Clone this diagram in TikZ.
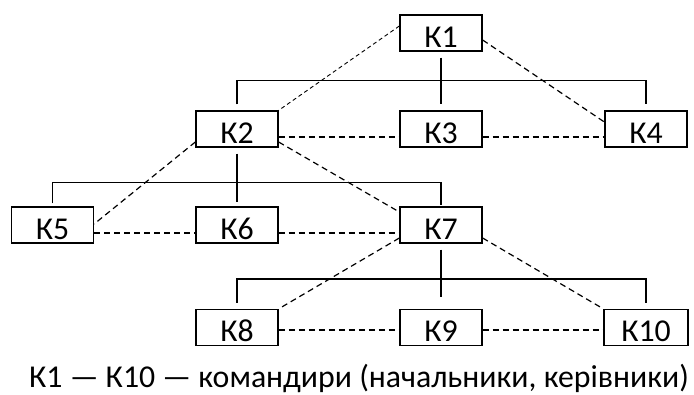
\documentclass[tikz,border=0pt]{standalone}
\usepackage{fontspec}
\setmainfont{Carlito}
\begin{document}
\begin{tikzpicture}[x=1pt,y=-1pt,
  kbox/.style={draw, line width=1.3pt, minimum width=82pt, minimum height=36pt,
    inner sep=0pt, text height=28pt, text depth=0pt, font=\fontsize{31.8}{34}\selectfont},
  tree/.style={line width=1.4pt},
  dline/.style={line width=1.2pt, dash pattern=on 6pt off 4pt},
  dthin/.style={line width=0.9pt, dash pattern=on 4pt off 3pt}]
\useasboundingbox (0,0) rectangle (694,394);
\node[kbox] (K1) at (441,33) {К1};
\node[kbox] (K2) at (237,129) {К2};
\node[kbox] (K3) at (441,129) {К3};
\node[kbox] (K4) at (646,129) {К4};
\node[kbox] (K5) at (52.5,225) {К5};
\node[kbox] (K6) at (237,225) {К6};
\node[kbox] (K7) at (441,225) {К7};
\node[kbox] (K8) at (237,327.5) {К8};
\node[kbox] (K9) at (441,327.5) {К9};
\node[kbox, minimum width=84pt] (K10) at (646,327.5) {К10};
% tree lines
\draw[tree] ([yshift=-6pt]K1.south) -- ([yshift=6pt]K3.north);
\draw[tree] ([yshift=6pt]K2.north) |- ([yshift=30pt]K3.north) -| ([yshift=6pt]K4.north);
\draw[tree] ([yshift=-6pt]K2.south) -- ([yshift=4pt]K6.north);
\draw[tree] ([yshift=3pt]K5.north) |- ([yshift=24pt]K6.north) -| ([yshift=1pt]K7.north);
\draw[tree] ([yshift=-6pt]K7.south) -- ([yshift=12pt]K9.north);
\draw[tree] ([yshift=6pt]K8.north) |- ([yshift=30pt]K9.north) -| ([yshift=6pt]K10.north);
% dashed links
\draw[dthin] ([yshift=7pt]K1.west) -- (K2.north east);
\draw[dline] ([yshift=-7pt]K1.east) -- ([yshift=7pt]K4.west);
\draw[dline] ([yshift=-8pt]K2.east) -- ([yshift=-8pt]K3.west);
\draw[dline] ([yshift=-8pt]K3.east) -- ([yshift=-8pt]K4.west);
\draw[dline] ([yshift=-13pt]K2.west) -- ([yshift=1pt]K5.east);
\draw[dline] ([yshift=-13pt]K2.east) -- ([yshift=13pt]K7.west);
\draw[dline] ([yshift=-8pt]K5.east) -- ([yshift=-8pt]K6.west);
\draw[dline] ([yshift=-8pt]K6.east) -- ([yshift=-8pt]K7.west);
\draw[dline] ([yshift=-13pt]K7.west) -- (K8.north east);
\draw[dline] ([yshift=-13pt]K7.east) -- (K10.north west);
\draw[dline] ([yshift=-2.5pt]K8.east) -- ([yshift=-2.5pt]K9.west);
\draw[dline] ([yshift=-2.5pt]K9.east) -- ([yshift=-2.5pt]K10.west);
% caption
\node[anchor=base west, inner sep=0pt, font=\fontsize{31.8}{34}\selectfont] (cap) at (29,387) {К1 — К10 — командири (начальники, керівники)};
\end{tikzpicture}
\end{document}
